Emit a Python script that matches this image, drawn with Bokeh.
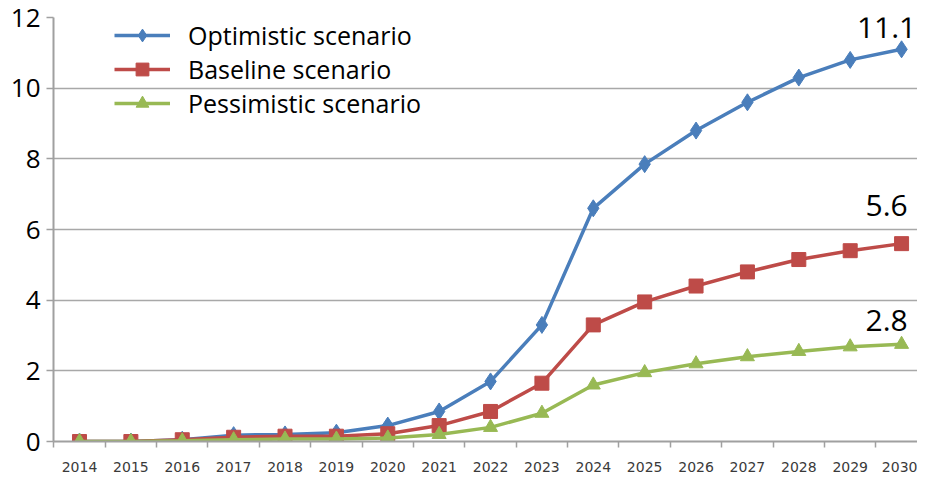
from bokeh.plotting import figure
from bokeh.models import FixedTicker, ColumnDataSource, Legend, LegendItem, Label
from bokeh.embed import file_html
from bokeh.resources import INLINE

years = list(range(2014, 2031))
optimistic = [0, 0, 0.05, 0.18, 0.2, 0.25, 0.45, 0.85, 1.7, 3.3, 6.6, 7.85, 8.8, 9.6, 10.3, 10.8, 11.1]
baseline = [0, 0, 0.05, 0.12, 0.15, 0.15, 0.22, 0.45, 0.85, 1.65, 3.3, 3.95, 4.4, 4.8, 5.15, 5.4, 5.6]
pessimistic = [0, 0, 0.02, 0.05, 0.07, 0.07, 0.1, 0.2, 0.4, 0.8, 1.6, 1.95, 2.2, 2.4, 2.55, 2.68, 2.75]
series_names = ["Optimistic scenario", "Baseline scenario", "Pessimistic scenario"]
end_labels = ["11.1", "5.6", "2.8"]
y_ticks = [0, 2, 4, 6, 8, 10, 12]

colors = ["#4a7ebb", "#be4b48", "#98b954"]
markers = ["diamond", "square", "triangle"]
msizes = [17, 14, 14]
label_dy = [22, 38, 24]

p = figure(width=917, height=481, output_backend="svg", toolbar_location=None,
           x_range=(2013.494, 2030.31), y_range=(0, 12),
           min_border_left=53, min_border_right=0, min_border_top=17, min_border_bottom=40)
p.outline_line_color = None
p.xgrid.visible = False
p.ygrid.grid_line_color = "#a8a8a8"
p.ygrid.grid_line_width = 1.5

p.xaxis.ticker = FixedTicker(ticks=years, minor_ticks=[y - 0.5 for y in years] + [2030.5])
p.xaxis.major_tick_line_color = None
p.xaxis.major_tick_out = 0
p.xaxis.minor_tick_out = 6
p.xaxis.minor_tick_in = 0
p.xaxis.minor_tick_line_color = "#a0a0a0"
p.xaxis.minor_tick_line_width = 1.5
p.xaxis.axis_line_color = "#a0a0a0"
p.xaxis.axis_line_width = 2
p.xaxis.major_label_text_font = "DejaVu Sans"
p.xaxis.major_label_text_font_size = "14px"
p.xaxis.major_label_text_color = "#3a3a3a"
p.xaxis.major_label_standoff = 14

p.yaxis.ticker = FixedTicker(ticks=y_ticks)
p.yaxis.minor_tick_line_color = None
p.yaxis.major_tick_out = 7
p.yaxis.major_tick_in = 0
p.yaxis.major_tick_line_color = "#a0a0a0"
p.yaxis.major_tick_line_width = 1.5
p.yaxis.axis_line_color = "#a0a0a0"
p.yaxis.axis_line_width = 2
p.yaxis.major_label_text_font = "Open Sans"
p.yaxis.major_label_text_font_size = "26px"
p.yaxis.major_label_text_color = "#000000"
p.yaxis.major_label_standoff = 6

items = []
for name, vals, c, m, ms, lab, dy in zip(series_names, [optimistic, baseline, pessimistic],
                                          colors, markers, msizes, end_labels, label_dy):
    src = ColumnDataSource(dict(x=years, y=vals))
    r1 = p.line("x", "y", source=src, line_color=c, line_width=3.5)
    r2 = p.scatter("x", "y", source=src, marker=m, size=ms, fill_color=c, line_color=c)
    items.append(LegendItem(label=name, renderers=[r1, r2]))
    p.add_layout(Label(x=years[-1], y=vals[-1], text=lab, text_font="Open Sans",
                       text_font_size="30px", text_align="center", text_baseline="middle",
                       x_offset=-15, y_offset=dy, text_color="#000000"))

legend = Legend(items=items, location=(61, 321))
legend.background_fill_alpha = 0
legend.border_line_color = None
legend.padding = 0
legend.margin = 0
legend.spacing = 0
legend.label_height = 32
legend.glyph_height = 32
legend.glyph_width = 56
legend.label_standoff = 18
legend.label_text_font = "Open Sans"
legend.label_text_font_size = "25px"
legend.label_text_color = "#000000"
p.add_layout(legend)

open("out.html", "w").write(file_html(p, INLINE))
